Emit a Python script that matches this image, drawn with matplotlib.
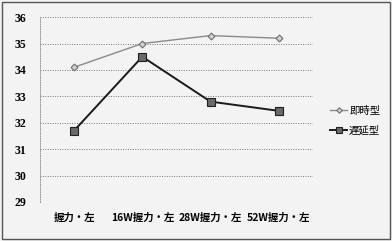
import matplotlib
matplotlib.use("Agg")
from matplotlib import pyplot as plt

plt.rcParams['font.family'] = ['Noto Sans CJK JP', 'DejaVu Sans']

categories = ["握力・左", "16W握力・左", "28W握力・左", "52W握力・左"]
immediate = [34.1, 35.0, 35.3, 35.2]
delayed = [31.7, 34.5, 32.8, 32.45]
series_names = ["即時型", "遅延型"]
y_ticks = [29, 30, 31, 32, 33, 34, 35, 36]

fig = plt.figure(figsize=(3.92, 2.41), dpi=100)
fig.patch.set_facecolor("#f3f3f3")
ax = fig.add_axes([0.102, 0.162, 0.696, 0.767])
ax.set_facecolor("#f3f3f3")

x = range(len(categories))
ax.plot(x, immediate, color="#8a8a8a", lw=1.0, marker="D", ms=3.5,
        mfc="#d0d0d0", mec="#707070", mew=0.8, label=series_names[0])
ax.plot(x, delayed, color="#1a1a1a", lw=1.4, marker="s", ms=6,
        mfc="#6a6a6a", mec="#202020", mew=0.8, label=series_names[1])

ax.set_xlim(-0.5, len(categories) - 0.5)
ax.set_ylim(29, 36)
ax.set_yticks(y_ticks)
ax.set_yticklabels([str(v) for v in y_ticks], family="Liberation Serif",
                   fontweight="bold", fontsize=8.5)
ax.set_xticks(list(x))
ax.set_xticklabels(categories, fontsize=7.5, fontweight="bold")
ax.tick_params(length=0)
ax.tick_params(axis="y", pad=10)
ax.tick_params(axis="x", pad=8)

ax.grid(axis="y", color="#777777", lw=0.7, ls=(0, (1, 1.5)))
for s in ["top", "right", "bottom"]:
    ax.spines[s].set_visible(False)
ax.spines["left"].set_color("#999999")
ax.spines["left"].set_linestyle((0, (1, 1.5)))
ax.spines["left"].set_linewidth(0.7)

leg = ax.legend(loc="center left", bbox_to_anchor=(1.03, 0.44), frameon=False,
                fontsize=7.5, handlelength=1.6, handletextpad=0.2,
                labelspacing=0.9, markerscale=0.8)

# frame around whole chart
fig.add_artist(plt.Rectangle((0.004, 0.01), 0.99, 0.98, transform=fig.transFigure,
                             fill=False, ec="#555555", lw=1.0))

fig.savefig("out.png", dpi=100, facecolor=fig.get_facecolor())
